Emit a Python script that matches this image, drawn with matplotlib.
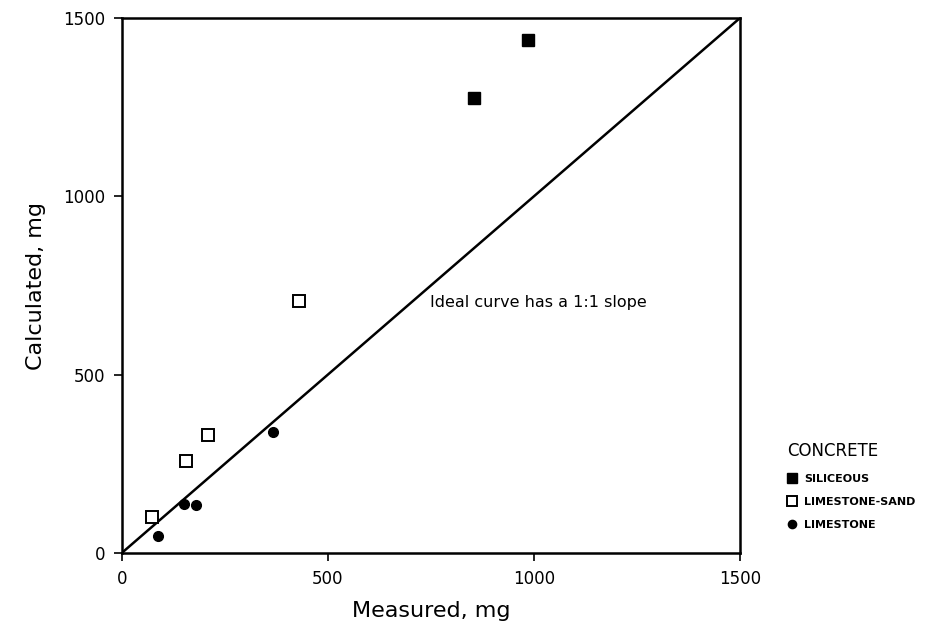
import numpy as np
import matplotlib.pyplot as plt

plt.rcParams['font.family'] = 'DejaVu Sans'

# measured vs calculated mass, mg
siliceous_meas = [856, 985]
siliceous_calc = [1277, 1438]
lssand_meas = [74, 156, 210, 430]
lssand_calc = [102, 259, 331, 708]
limestone_meas = [87, 152, 181, 367]
limestone_calc = [46, 137, 133, 339]

ticks = [0, 500, 1000, 1500]

fig = plt.figure(figsize=(9.52, 6.29), dpi=100)
ax = fig.add_axes([0.128, 0.121, 0.649, 0.850])

# 1:1 reference line
ax.plot([0, 1500], [0, 1500], color='black', lw=1.8, zorder=1)

ax.plot(siliceous_meas, siliceous_calc, 's', color='black', ms=8,
        label='SILICEOUS', zorder=3)
ax.plot(lssand_meas, lssand_calc, 's', mfc='white', mec='black', mew=1.4,
        ms=9, label='LIMESTONE-SAND', zorder=3)
ax.plot(limestone_meas, limestone_calc, 'o', color='black', ms=7,
        label='LIMESTONE', zorder=3)

ax.text(748, 702, 'Ideal curve has a 1:1 slope', fontsize=11.5,
        va='center', ha='left')

ax.set_xlim(0, 1500)
ax.set_ylim(0, 1500)
ax.set_xticks(ticks)
ax.set_yticks(ticks)
ax.tick_params(direction='out', length=6, width=1.2, labelsize=12, pad=6)
for s in ax.spines.values():
    s.set_linewidth(1.8)

ax.set_xlabel('Measured, mg', fontsize=16, labelpad=10)
ax.set_ylabel('Calculated, mg', fontsize=16, labelpad=12)

leg = ax.legend(loc='upper left', bbox_to_anchor=(1.07, 0.215), frameon=False,
                title='CONCRETE', title_fontsize=12,
                prop={'size': 8, 'weight': 'bold'}, markerscale=0.85,
                handletextpad=0.7, handlelength=0.8, labelspacing=1.2,
                borderaxespad=0)
leg._legend_box.align = 'left'

fig.savefig('out.png', dpi=100)
